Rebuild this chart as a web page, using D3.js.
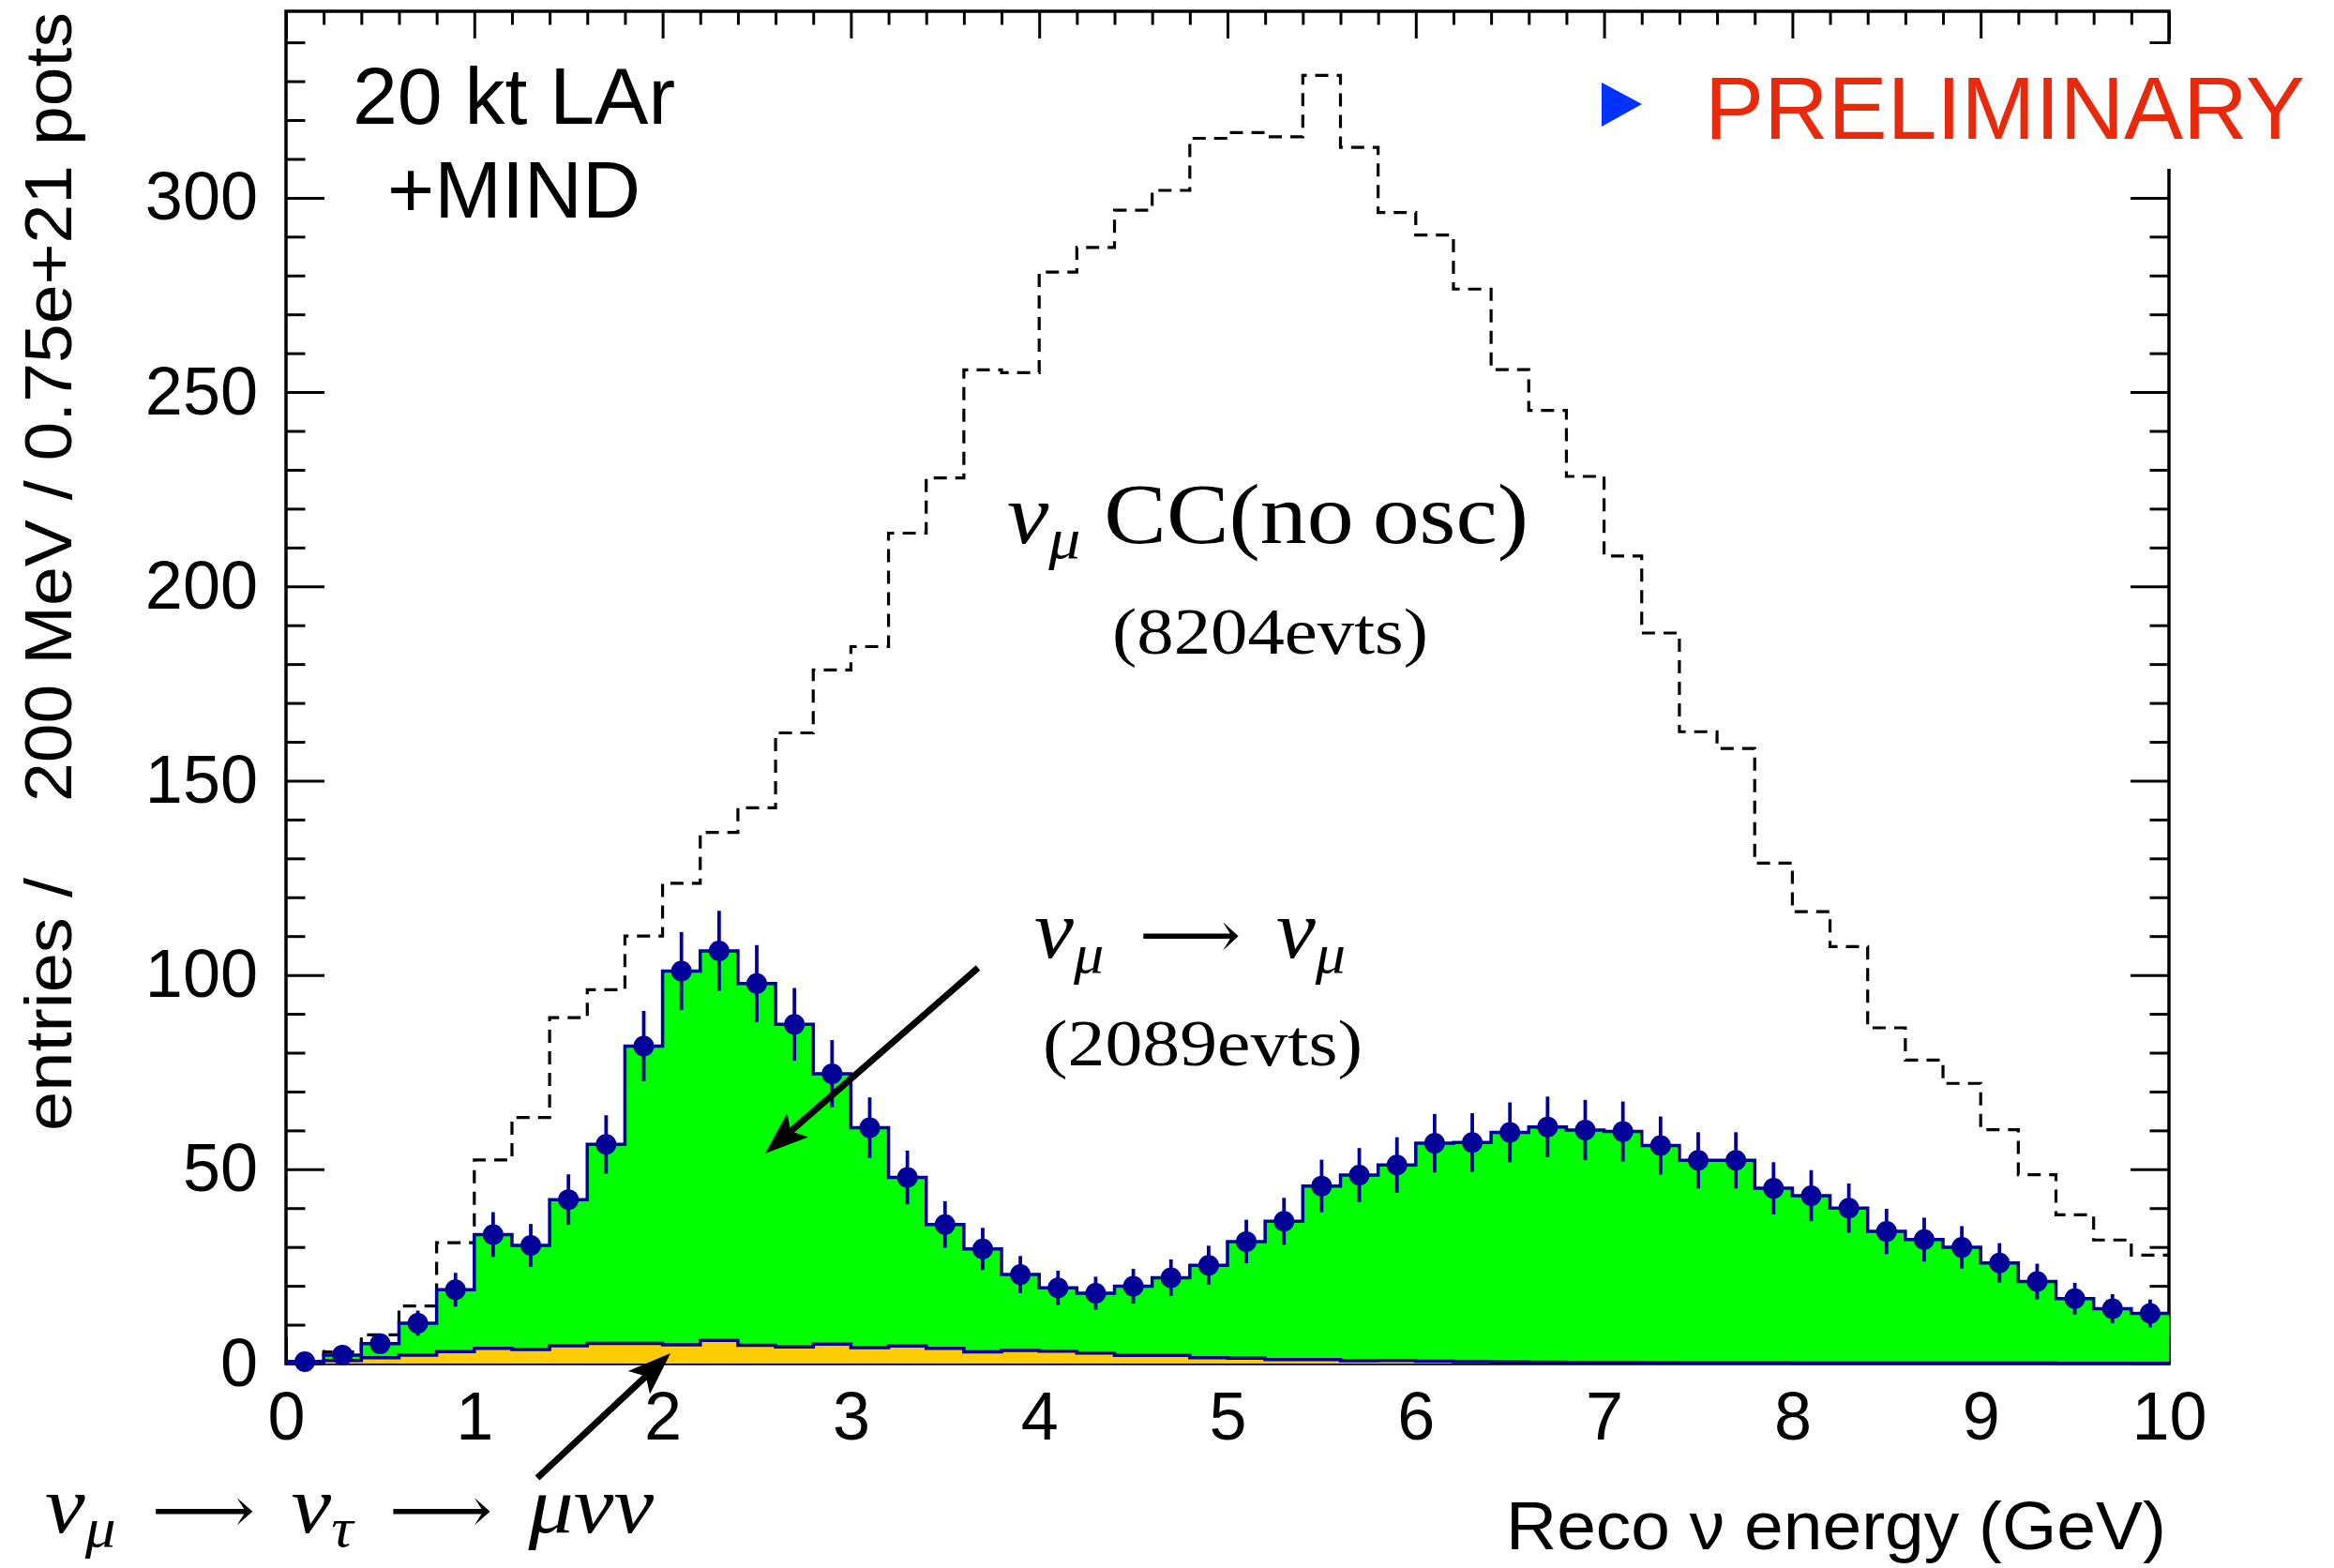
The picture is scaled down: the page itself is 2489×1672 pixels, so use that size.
<!DOCTYPE html>
<html>
<head>
<meta charset="utf-8">
<script src="https://cdnjs.cloudflare.com/ajax/libs/d3/7.8.5/d3.min.js"></script>
<style>
  html, body { margin: 0; padding: 0; background: #fff; }
  svg { display: block; }
</style>
</head>
<body>
<svg id="chart" width="2489" height="1672"></svg>
<script>

// bin low edges, 200 MeV wide, 0 - 10 GeV
var binWidth = 0.2;
var binEdges = d3.range(0, 10, binWidth);

// numu CC, no oscillation (dashed)
var noOsc = [0.5, 3.0, 7.4, 14.8, 31.1, 52.4, 63.3, 89.0, 96.2, 110.0,
	123.6, 136.7, 143.0, 162.3, 178.5, 184.5, 213.7, 227.9, 255.7, 255.0,
	280.9, 287.2, 296.8, 301.9, 315.3, 316.8, 315.7, 331.5, 313.0, 296.2,
	290.4, 276.5, 255.8, 245.3, 228.3, 207.8, 188.0, 162.6, 158.3, 128.8,
	116.3, 107.3, 86.4, 78.1, 72.1, 60.2, 48.6, 38.3, 31.8, 27.9];

// numu -> numu, stacked total (green) and data points
var muSurvival = [0.5, 2.2, 5.1, 10.4, 19.0, 33.2, 30.4, 42.2, 56.4, 81.7,
	101.0, 106.2, 97.8, 87.3, 74.6, 60.7, 47.9, 35.8, 29.5, 22.9,
	19.5, 18.1, 19.9, 22.1, 25.3, 31.4, 36.6, 45.7, 48.5, 51.1,
	56.7, 56.9, 59.5, 60.9, 60.1, 59.7, 56.1, 52.3, 52.3, 45.1,
	43.2, 40.0, 34.0, 31.9, 29.9, 25.9, 21.1, 16.7, 14.1, 12.9];

// numu -> nutau -> mu nu nu background (orange)
var tauBkg = [0.2, 0.8, 1.5, 2.2, 3.1, 3.9, 3.6, 4.6, 5.2, 5.2,
	4.8, 6.0, 4.7, 4.3, 5.0, 4.1, 4.5, 3.9, 3.0, 3.4,
	3.2, 2.7, 2.1, 2.1, 1.5, 1.4, 1.0, 1.0, 0.7, 0.8,
	0.6, 0.5, 0.4, 0.35, 0.3, 0.3, 0.25, 0.2, 0.2, 0.2,
	0.15, 0.15, 0.1, 0.1, 0.1, 0.1, 0.1, 0.05, 0.05, 0.05];

var xMajorTicks = [0, 1, 2, 3, 4, 5, 6, 7, 8, 9, 10];
var yMajorTicks = [0, 50, 100, 150, 200, 250, 300];

var svg = d3.select('#chart');
var frame = {left: 305, right: 2313, top: 12, bottom: 1454};
var navy = '#000099';

var x = d3.scaleLinear().domain([0, 10]).range([frame.left, frame.right]);
var y = d3.scaleLinear().domain([0, 348]).range([frame.bottom, frame.top]);

drawAxes();
drawHistograms();
drawPoints();
drawLabels();

/**
 * Frame with inward ticks on all four sides (ROOT style)
 */
function drawAxes() {
	var xMinor = d3.range(0, 10.01, 0.2).filter(function(v) { return Math.abs(v - Math.round(v)) > 1e-6; });
	var yMinor = d3.range(0, 341, 10).filter(function(v) { return v % 50 !== 0; });

	var axes = [
		{ax: d3.axisBottom(x), t: [0, frame.bottom], major: xMajorTicks, minor: xMinor, len: 29, labels: true},
		{ax: d3.axisTop(x), t: [0, frame.top], major: xMajorTicks, minor: xMinor, len: 29},
		{ax: d3.axisLeft(y), t: [frame.left, 0], major: yMajorTicks, minor: yMinor, len: 41, labels: true},
		{ax: d3.axisRight(y), t: [frame.right, 0], major: yMajorTicks, minor: yMinor, len: 41}
	];

	axes.forEach(function(a) {
		// minor ticks
		var gm = svg.append('g').attr('transform', 'translate(' + a.t + ')')
			.call(a.ax.tickValues(a.minor).tickSizeInner(-a.len / 2).tickSizeOuter(0).tickFormat(''));
		gm.select('.domain').remove();
		// major ticks (+ labels)
		var g = svg.append('g').attr('class', 'axis').attr('transform', 'translate(' + a.t + ')')
			.call(a.ax.tickValues(a.major).tickSizeInner(-a.len).tickSizeOuter(0).tickPadding(30)
				.tickFormat(a.labels ? d3.format('d') : ''));
		g.select('.domain').remove();
		svg.selectAll('.tick line').attr('stroke', '#000').attr('stroke-width', 3);
		g.selectAll('text')
			.attr('font-family', '"Liberation Sans", Arial, Helvetica, sans-serif')
			.attr('font-size', 72)
			.attr('fill', '#000');
	});

	svg.append('rect')
		.attr('x', frame.left).attr('y', frame.top)
		.attr('width', frame.right - frame.left).attr('height', frame.bottom - frame.top)
		.attr('fill', 'none').attr('stroke', '#000').attr('stroke-width', 3.5);
}

/**
 * Step path helpers for a fixed-width binned histogram
 */
function stepPoints(values) {
	var pts = values.map(function(v, i) { return [binEdges[i], v]; });
	pts.push([10, values[values.length - 1]]);
	return pts;
}

function drawHistograms() {
	var line = d3.line()
		.x(function(d) { return x(d[0]); })
		.y(function(d) { return y(d[1]); })
		.curve(d3.curveStepAfter);
	var area = d3.area()
		.x(function(d) { return x(d[0]); })
		.y0(y(0))
		.y1(function(d) { return y(d[1]); })
		.curve(d3.curveStepAfter);

	// no oscillation, dashed outline
	svg.append('path')
		.attr('d', line(stepPoints(noOsc)))
		.attr('fill', 'none').attr('stroke', '#000')
		.attr('stroke-width', 3.2).attr('stroke-dasharray', '14,9');

	// numu survival, green
	svg.append('path').attr('d', area(stepPoints(muSurvival))).attr('fill', '#00ff00');
	svg.append('path').attr('d', line(stepPoints(muSurvival)))
		.attr('fill', 'none').attr('stroke', navy).attr('stroke-width', 3.5);

	// tau background, orange
	svg.append('path').attr('d', area(stepPoints(tauBkg))).attr('fill', '#ffcc00');
	svg.append('path').attr('d', line(stepPoints(tauBkg)))
		.attr('fill', 'none').attr('stroke', navy).attr('stroke-width', 3.5);
}

/**
 * Markers with Poisson error bars at bin centres
 */
function drawPoints() {
	var pts = svg.append('g').selectAll('g').data(muSurvival).enter().append('g');
	pts.append('line')
		.attr('x1', function(d, i) { return x(binEdges[i] + binWidth / 2); })
		.attr('x2', function(d, i) { return x(binEdges[i] + binWidth / 2); })
		.attr('y1', function(d) { return y(d + Math.sqrt(d)); })
		.attr('y2', function(d) { return y(Math.max(0, d - Math.sqrt(d))); })
		.attr('stroke', navy).attr('stroke-width', 3.8);
	pts.append('circle')
		.attr('cx', function(d, i) { return x(binEdges[i] + binWidth / 2); })
		.attr('cy', function(d) { return y(d); })
		.attr('r', 11)
		.attr('fill', navy);
}

/**
 * Fit a text element horizontally between x0 and x1
 */
function fitText(t, x0, x1) {
	var bb = t.node().getBBox();
	var sx = (x1 - x0) / bb.width;
	t.attr('transform', 'translate(' + (x0 - bb.x * sx) + ',0) scale(' + sx + ',1)');
}

function mathText(parts, x0, x1, baseline, size) {
	var t = svg.append('text')
		.attr('x', 0).attr('y', baseline)
		.attr('font-family', '"Liberation Serif", "Times New Roman", serif')
		.attr('font-size', size).attr('fill', '#000');
	var shift = 0;
	parts.forEach(function(p) {
		var s = t.append('tspan').text(p.t);
		if (p.it) s.attr('font-style', 'italic');
		if (p.arrow) s.attr('font-family', '"DejaVu Serif", "DejaVu Sans", serif').attr('font-size', size * 0.8);
		var target = p.sub ? size * 0.18 : 0;
		if (target !== shift) { s.attr('dy', target - shift); shift = target; }
		if (p.sub) s.attr('font-size', size * 0.68);
	});
	fitText(t, x0, x1);
	return t;
}

function arrow(x1, y1, x2, y2) {
	var a = Math.atan2(y2 - y1, x2 - x1);
	var len = 46, hw = 17, notch = 10;
	var bx = x2 - len * Math.cos(a), by = y2 - len * Math.sin(a);
	svg.append('line')
		.attr('x1', x1).attr('y1', y1)
		.attr('x2', x2 - (len - notch) * Math.cos(a)).attr('y2', y2 - (len - notch) * Math.sin(a))
		.attr('stroke', '#000').attr('stroke-width', 7);
	var pts = [
		[x2, y2],
		[bx - hw * Math.sin(a), by + hw * Math.cos(a)],
		[x2 - (len - notch) * Math.cos(a), y2 - (len - notch) * Math.sin(a)],
		[bx + hw * Math.sin(a), by - hw * Math.cos(a)]
	];
	svg.append('polygon').attr('points', pts.map(function(p) { return p.join(','); }).join(' '))
		.attr('fill', '#000');
}

function drawLabels() {
	var sans = '"Liberation Sans", Arial, Helvetica, sans-serif';
	var longArrow = {t: '\u2002\u27f6\u2002', arrow: 1};

	// PRELIMINARY banner covers the frame edge
	svg.append('rect').attr('x', 1690).attr('y', 47).attr('width', 799).attr('height', 133).attr('fill', '#fff');
	svg.append('polygon').attr('points', '1708,88 1751,111 1708,135').attr('fill', '#0033ff');
	svg.append('text').attr('x', 1818).attr('y', 148)
		.attr('font-family', sans).attr('font-size', 94).attr('fill', '#e8290b')
		.attr('textLength', 640).attr('lengthAdjust', 'spacingAndGlyphs')
		.text('PRELIMINARY');

	svg.append('text').attr('x', 548).attr('y', 132).attr('text-anchor', 'middle')
		.attr('font-family', sans).attr('font-size', 86).text('20 kt LAr');
	svg.append('text').attr('x', 548).attr('y', 232).attr('text-anchor', 'middle')
		.attr('font-family', sans).attr('font-size', 86).text('+MIND');

	// axis titles
	svg.append('text').attr('x', 2310).attr('y', 1652).attr('text-anchor', 'end')
		.attr('font-family', sans).attr('font-size', 72)
		.attr('textLength', 704).attr('lengthAdjust', 'spacingAndGlyphs')
		.text('Reco \u03bd energy (GeV)');
	svg.append('text').attr('transform', 'translate(76,855) rotate(-90)')
		.attr('font-family', sans).attr('font-size', 70)
		.attr('textLength', 842).attr('lengthAdjust', 'spacingAndGlyphs')
		.text('200 MeV / 0.75e+21 pots');
	svg.append('text').attr('transform', 'translate(76,1206) rotate(-90)')
		.attr('font-family', sans).attr('font-size', 70)
		.attr('textLength', 270).attr('lengthAdjust', 'spacingAndGlyphs')
		.text('entries /');

	// sample labels
	mathText([{t: '\u03bd', it: 1}, {t: '\u03bc', it: 1, sub: 1}, {t: ' CC(no\u2009osc)'}], 1074, 1630, 579, 90);
	mathText([{t: '(8204evts)'}], 1186, 1523, 697, 70);
	mathText([{t: '\u03bd', it: 1}, {t: '\u03bc', it: 1, sub: 1}, longArrow,
		{t: '\u03bd', it: 1}, {t: '\u03bc', it: 1, sub: 1}], 1103, 1435, 1021, 88);
	mathText([{t: '(2089evts)'}], 1112, 1453, 1136, 70);
	mathText([{t: '\u03bd', it: 1}, {t: '\u03bc', it: 1, sub: 1}, longArrow,
		{t: '\u03bd', it: 1}, {t: '\u03c4', it: 1, sub: 1}, longArrow,
		{t: '\u03bc\u03bd\u03bd', it: 1}], 48, 698, 1634, 86);

	arrow(1043, 1032, 816, 1230);
	arrow(573, 1576, 715, 1443);
}

</script>
</body>
</html>
